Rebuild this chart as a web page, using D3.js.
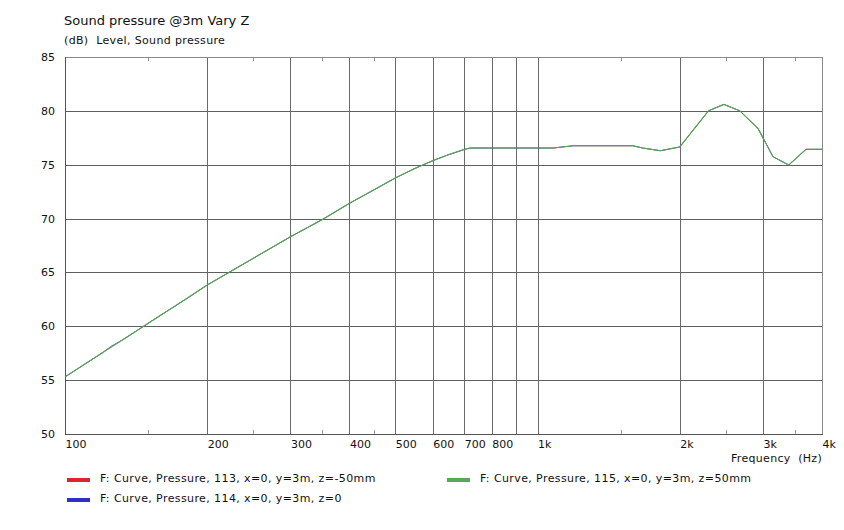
<!DOCTYPE html>
<html>
<head>
<meta charset="utf-8">
<script src="https://cdn.jsdelivr.net/npm/d3@7"></script>
<style>
  html, body { margin: 0; padding: 0; background: #fff; }
  svg { display: block; font-family: "DejaVu Sans", Verdana, sans-serif; }
  text { white-space: pre; }
</style>
</head>
<body>
<svg id="chart" width="844" height="530"></svg>
<script>
// ---- data ----
const freqs = [100, 110, 120, 125, 132, 140, 160, 180, 200, 250, 300, 350, 400, 450, 500, 550, 600, 650, 700, 720, 800, 1000, 1080, 1190, 1590, 1670, 1820, 2000, 2300, 2480, 2680, 2930, 3150, 3400, 3700, 4000];
const splZm50 = [55.3, 56.47, 57.54, 58.04, 58.70, 59.43, 61.07, 62.51, 63.83, 66.3, 68.31, 69.9, 71.42, 72.65, 73.77, 74.65, 75.37, 75.95, 76.42, 76.55, 76.55, 76.55, 76.55, 76.76, 76.76, 76.55, 76.3, 76.65, 80.0, 80.6, 80.0, 78.35, 75.75, 74.97, 76.43, 76.43];
const splZ0   = [55.3, 56.47, 57.54, 58.13, 58.70, 59.43, 61.07, 62.51, 63.83, 66.3, 68.31, 69.9, 71.42, 72.65, 73.77, 74.65, 75.37, 75.95, 76.42, 76.55, 76.55, 76.55, 76.55, 76.76, 76.76, 76.55, 76.3, 76.65, 80.0, 80.6, 80.0, 78.35, 75.75, 74.97, 76.43, 76.43];
const splZp50 = [55.3, 56.47, 57.54, 58.04, 58.70, 59.43, 61.07, 62.51, 63.83, 66.3, 68.31, 69.9, 71.42, 72.65, 73.77, 74.65, 75.37, 75.95, 76.42, 76.55, 76.55, 76.55, 76.55, 76.76, 76.76, 76.55, 76.3, 76.65, 80.0, 80.6, 80.0, 78.35, 75.75, 74.97, 76.43, 76.43];

const yTicks = [50, 55, 60, 65, 70, 75, 80, 85];
const xGrid = [200, 300, 400, 500, 600, 700, 800, 900, 1000, 2000, 3000];
const xMinor = [150, 250, 350, 450, 1500, 2500, 3500];
const xLabelVals = [100, 200, 300, 400, 500, 600, 700, 800, 1000, 2000, 3000, 4000];
const xLabelText = ["100", "200", "300", "400", "500", "600", "700", "800", "1k", "2k", "3k", "4k"];

const seriesNames = [
  "F: Curve, Pressure, 113, x=0, y=3m, z=-50mm",
  "F: Curve, Pressure, 114, x=0, y=3m, z=0",
  "F: Curve, Pressure, 115, x=0, y=3m, z=50mm"
];
const seriesColors = ["#d9262e", "#2a2ac0", "#52aa52"];
const seriesWidths = [0.5, 0.7, 1.1];
const swatchColors = ["#d9262e", "#2f2fc4", "#5aa65a"];
const seriesValues = [splZm50, splZ0, splZp50];

// ---- layout ----
const L = 65, R = 822, T = 57, B = 434;
const svg = d3.select("#chart");
const x = d3.scaleLog().domain([100, 4000]).range([L, R]);
const y = d3.scaleLinear().domain([50, 85]).range([B, T]);
const px = v => Math.round(v) + 0.5;

// title
svg.append("text").attr("x", 64).attr("y", 25).attr("font-size", 13).attr("fill", "#111").text("Sound pressure @3m Vary Z");
svg.append("text").attr("x", 64).attr("y", 44).attr("font-size", 11).attr("letter-spacing", 0.35).attr("fill", "#111").text("(dB)  Level, Sound pressure");

// grid
const g = svg.append("g");
g.selectAll("line.hg").data(yTicks.filter(t => t > 50 && t < 85)).join("line")
  .attr("x1", L).attr("x2", R).attr("y1", d => px(y(d))).attr("y2", d => px(y(d)))
  .attr("stroke", "#5e5e5e").attr("stroke-width", 1);
g.selectAll("line.vg").data(xGrid).join("line")
  .attr("x1", d => px(x(d))).attr("x2", d => px(x(d))).attr("y1", T).attr("y2", B)
  .attr("stroke", "#6a6a6a").attr("stroke-width", 1);
// minor ticks
g.selectAll("line.mt").data(xMinor).join("line")
  .attr("x1", d => px(x(d))).attr("x2", d => px(x(d))).attr("y1", B - 4).attr("y2", B)
  .attr("stroke", "#999").attr("stroke-width", 1);
g.selectAll("line.mt2").data(xMinor).join("line")
  .attr("x1", d => px(x(d))).attr("x2", d => px(x(d))).attr("y1", T).attr("y2", T + 4)
  .attr("stroke", "#999").attr("stroke-width", 1);

// frame
g.append("rect").attr("x", L + 0.5).attr("y", T + 0.5).attr("width", R - L).attr("height", B - T)
  .attr("fill", "none").attr("stroke", "#8a8a8a");
g.append("line").attr("x1", L + 0.5).attr("x2", L + 0.5).attr("y1", T).attr("y2", B + 1).attr("stroke", "#555");
g.append("line").attr("x1", L).attr("x2", R + 1).attr("y1", B + 0.5).attr("y2", B + 0.5).attr("stroke", "#555");

// y labels
svg.selectAll("text.yl").data(yTicks).join("text")
  .attr("x", 55).attr("y", d => y(d) + 4).attr("text-anchor", "end")
  .attr("font-size", 11).attr("fill", "#111").text(d => d);
// x labels
svg.selectAll("text.xl").data(xLabelVals).join("text")
  .attr("x", d => x(d) + 0.5).attr("y", B + 14).attr("text-anchor", "start")
  .attr("font-size", 11).attr("fill", "#111").text((d, i) => xLabelText[i]);
svg.append("text").attr("x", R).attr("y", 462).attr("text-anchor", "end")
  .attr("font-size", 11).attr("letter-spacing", 0.3).attr("fill", "#111").text("Frequency  (Hz)");

// curves
const line = d3.line().x((d, i) => x(freqs[i])).y(d => y(d));
seriesValues.forEach((vals, k) => {
  svg.append("path").datum(vals).attr("d", line)
    .attr("fill", "none").attr("stroke", seriesColors[k]).attr("stroke-width", seriesWidths[k]);
});

// legend
const legPos = [[67, 480], [67, 500], [447, 480]];
seriesNames.forEach((name, k) => {
  const [lx, ly] = legPos[k];
  svg.append("rect").attr("x", lx).attr("y", ly - 2).attr("width", 23).attr("height", 4).attr("fill", swatchColors[k]);
  svg.append("text").attr("x", lx + 33).attr("y", ly + 2).attr("font-size", 11).attr("letter-spacing", 0.4).attr("fill", "#111").text(name);
});
</script>
</body>
</html>
